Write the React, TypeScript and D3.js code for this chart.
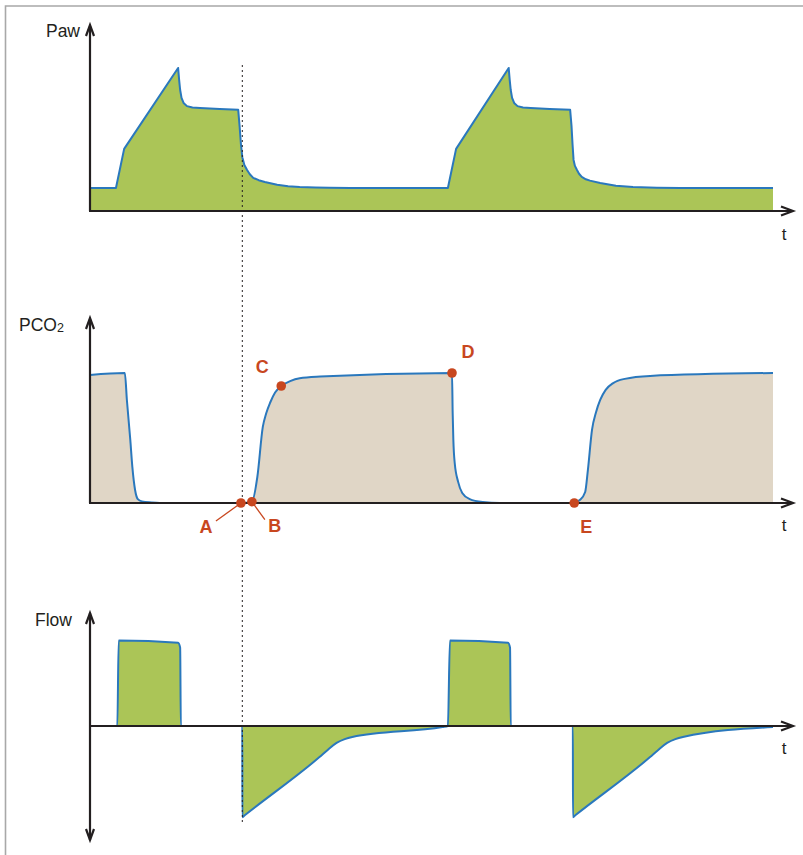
import React from "react";
import * as d3 from "d3";

// Time in seconds, shared by all three traces
// Airway pressure (cmH2O): [t, Paw]
const pawSeries: [number, number][] = [
  [0, 5.0], [0.38, 5.0], [0.5, 13.5], [1.29, 31.1], [1.305, 28.5], [1.32, 26.3],
  [1.34, 24.6], [1.37, 23.5], [1.42, 22.8], [1.5, 22.5], [1.61, 22.4], [1.9, 22.2], [2.17, 22.0],
  [2.19, 18.5], [2.21, 14.5], [2.23, 11.7], [2.26, 10.0], [2.3, 8.9], [2.34, 8.0], [2.39, 7.2],
  [2.47, 6.7], [2.56, 6.3], [2.74, 5.7], [2.9, 5.4], [3.07, 5.2], [3.3, 5.1], [3.5, 5.05],
  [3.81, 5.0], [5.24, 5.0], [5.36, 13.5], [6.13, 31.1], [6.145, 28.5], [6.16, 26.3],
  [6.18, 24.6], [6.21, 23.5], [6.26, 22.8], [6.34, 22.5], [6.45, 22.4], [6.73, 22.2],
  [7.03, 22.0], [7.05, 18.5], [7.065, 14.5], [7.08, 11.1], [7.1, 9.8], [7.13, 8.9],
  [7.16, 8.1], [7.2, 7.4], [7.26, 6.9], [7.32, 6.6], [7.47, 6.1], [7.7, 5.5], [7.95, 5.2],
  [8.3, 5.05], [8.64, 5.0], [10, 5.0],
];

// Expired CO2 (mmHg): [t, PCO2]
const pco2Series: [number, number][] = [
  [0, 39.4], [0.51, 40.0], [0.54, 31.7], [0.59, 19.4], [0.62, 11.1], [0.66, 4.0],
  [0.7, 1.2], [0.76, 0.5], [0.9, 0.15], [1.02, 0], [2.21, 0], [2.37, 0.4],
  [2.45, 8.0], [2.53, 23.4], [2.58, 27.6], [2.64, 31.0], [2.71, 34.0], [2.8, 36.0],
  [2.93, 37.5], [3.07, 38.4], [3.37, 38.9], [5.3, 40.0], [5.31, 27.7], [5.32, 19.4],
  [5.34, 12.3], [5.39, 6.5], [5.45, 3.1], [5.56, 1.2], [5.75, 0.3], [6.0, 0],
  [7.09, 0], [7.17, 0.9], [7.25, 3.4], [7.29, 10.2], [7.35, 22.5], [7.41, 28.0],
  [7.47, 31.7], [7.55, 34.8], [7.66, 36.9], [7.83, 38.2], [8.2, 39.1], [10, 40.0],
];

// Gas flow (L/min): [t, Flow]
const flowSeries: [number, number][] = [
  [0, 0], [0.4, 0], [0.42, 60], [1.29, 58.5], [1.32, 55], [1.33, 0], [2.23, 0],
  [2.231, -64], [2.27, -62.5], [3.36, -21.8], [3.48, -16.8], [3.61, -11.9], [3.73, -9.2],
  [3.84, -7.7], [5.16, -0.7], [5.24, 0], [5.27, 60], [6.12, 58.5], [6.15, 55], [6.16, 0],
  [7.07, 0], [7.071, -64], [7.11, -62.5], [8.2, -21.8], [8.32, -16.8], [8.45, -11.9],
  [8.57, -9.2], [8.68, -7.7], [10, -0.7],
];

// Capnogram phase markers
const markerNames = ["A", "B", "C", "D", "E"];
const markerTimes = [2.21, 2.37, 2.8, 5.3, 7.09];
const markerValues = [0, 0.4, 36.0, 40.0, 0];
const markerLabelDx = [-35, 23, -19, 16, 12];
const markerLabelDy = [30, 30, -13, -15, 30];
const markerLeader = [true, true, false, false, false];

const panelLabels = ["Paw", "PCO", "Flow"];
const endExpirationTime = 2.23;

const GREEN = "#abc557";
const BEIGE = "#e0d6c6";
const BLUE = "#2a78bd";
const INK = "#231f20";
const ORANGE = "#c8471f";

const x = d3.scaleLinear().domain([0, 10]).range([90, 773]);
const yPaw = d3.scaleLinear().domain([0, 40]).range([211, 27]);
const yCo2 = d3.scaleLinear().domain([0, 50]).range([503, 340.5]);
const yFlow = d3.scaleLinear().domain([-80, 80]).range([840, 612]);

type Curve = d3.CurveFactory;

function areaPath(data: [number, number][], y: d3.ScaleLinear<number, number>, curve: Curve) {
  return d3
    .area<[number, number]>()
    .curve(curve)
    .x((d) => x(d[0]))
    .y0(y(0))
    .y1((d) => y(d[1]))(data) as string;
}
function linePath(data: [number, number][], y: d3.ScaleLinear<number, number>, curve: Curve) {
  return d3
    .line<[number, number]>()
    .curve(curve)
    .x((d) => x(d[0]))
    .y((d) => y(d[1]))(data) as string;
}

const axisEnd = 793;

function Chevron({ x0, y0, dir }: { x0: number; y0: number; dir: "up" | "down" | "right" }) {
  let d = "";
  if (dir === "up") d = `M${x0 - 4},${y0 + 11} L${x0},${y0} L${x0 + 4},${y0 + 11}`;
  if (dir === "down") d = `M${x0 - 4},${y0 - 11} L${x0},${y0} L${x0 + 4},${y0 - 11}`;
  if (dir === "right") d = `M${x0 - 12},${y0 - 4.5} L${x0},${y0} L${x0 - 12},${y0 + 4.5}`;
  return <path d={d} fill="none" stroke={INK} strokeWidth={2.2} strokeLinejoin="miter" />;
}

export default function App() {
  const font = "'Liberation Sans', Arial, Helvetica, sans-serif";
  const zeroPaw = yPaw(0);
  const zeroCo2 = yCo2(0);
  const zeroFlow = yFlow(0);
  const lin = d3.curveLinear;
  const mono = d3.curveMonotoneX;
  return (
    <svg
      width={803}
      height={855}
      style={{ position: "absolute", left: 0, top: 0, background: "#fff" }}
      fontFamily={font}
    >
      {/* frame */}
      <path d="M5.5,855 L5.5,6 L803,6" fill="none" stroke="#a8a8a8" strokeWidth={1.6} />

      {/* Paw panel */}
      <path d={areaPath(pawSeries, yPaw, lin)} fill={GREEN} />
      <path d={linePath(pawSeries, yPaw, lin)} fill="none" stroke={BLUE} strokeWidth={2} strokeLinejoin="round" />
      <line x1={90} y1={zeroPaw} x2={90} y2={26} stroke={INK} strokeWidth={2.2} />
      <Chevron x0={90} y0={25} dir="up" />
      <line x1={89} y1={zeroPaw} x2={axisEnd} y2={zeroPaw} stroke={INK} strokeWidth={2.2} />
      <Chevron x0={axisEnd} y0={zeroPaw} dir="right" />
      <text x={80} y={37} fontSize={17.5} fill={INK} textAnchor="end">{panelLabels[0]}</text>
      <text x={784} y={240} fontSize={17} fill={INK} textAnchor="middle">t</text>

      {/* PCO2 panel */}
      <path d={areaPath(pco2Series, yCo2, mono)} fill={BEIGE} />
      <path d={linePath(pco2Series, yCo2, mono)} fill="none" stroke={BLUE} strokeWidth={2} strokeLinejoin="round" />
      <line x1={90} y1={zeroCo2} x2={90} y2={319} stroke={INK} strokeWidth={2.2} />
      <Chevron x0={90} y0={318} dir="up" />
      <line x1={89} y1={zeroCo2} x2={axisEnd} y2={zeroCo2} stroke={INK} strokeWidth={2.2} />
      <Chevron x0={axisEnd} y0={zeroCo2} dir="right" />
      <text x={19} y={331} fontSize={17.5} fill={INK}>
        {panelLabels[1]}
        <tspan fontSize={12.5} dy={1}>2</tspan>
      </text>
      <text x={784} y={531} fontSize={17} fill={INK} textAnchor="middle">t</text>

      {/* Flow panel */}
      <path d={areaPath(flowSeries, yFlow, mono)} fill={GREEN} />
      <path d={linePath(flowSeries, yFlow, mono)} fill="none" stroke={BLUE} strokeWidth={2} strokeLinejoin="round" />
      <line x1={90} y1={840} x2={90} y2={613} stroke={INK} strokeWidth={2.2} />
      <Chevron x0={90} y0={613} dir="up" />
      <Chevron x0={90} y0={840} dir="down" />
      <line x1={89} y1={zeroFlow} x2={axisEnd} y2={zeroFlow} stroke={INK} strokeWidth={2.2} />
      <Chevron x0={axisEnd} y0={zeroFlow} dir="right" />
      <text x={72} y={626} fontSize={17.5} fill={INK} textAnchor="end">{panelLabels[2]}</text>
      <text x={784} y={754} fontSize={17} fill={INK} textAnchor="middle">t</text>

      {/* end-expiration reference line */}
      <line
        x1={x(endExpirationTime)}
        y1={65}
        x2={x(endExpirationTime)}
        y2={824}
        stroke={INK}
        strokeWidth={1}
        strokeDasharray="2,3"
      />

      {/* phase markers */}
      {markerNames.map((name, i) => {
        const cx = x(markerTimes[i]);
        const cy = yCo2(markerValues[i]);
        const lx = cx + markerLabelDx[i];
        const ly = cy + markerLabelDy[i];
        return (
          <g key={name}>
            {markerLeader[i] && (
              <line
                x1={cx}
                y1={cy}
                x2={i === 0 ? lx + 10 : lx - 10}
                y2={ly - 12}
                stroke={ORANGE}
                strokeWidth={1.3}
              />
            )}
            <circle cx={cx} cy={cy} r={4.8} fill={ORANGE} />
            <text x={lx} y={ly} fontSize={18} fontWeight="bold" fill={ORANGE} textAnchor="middle">
              {name}
            </text>
          </g>
        );
      })}
    </svg>
  );
}
